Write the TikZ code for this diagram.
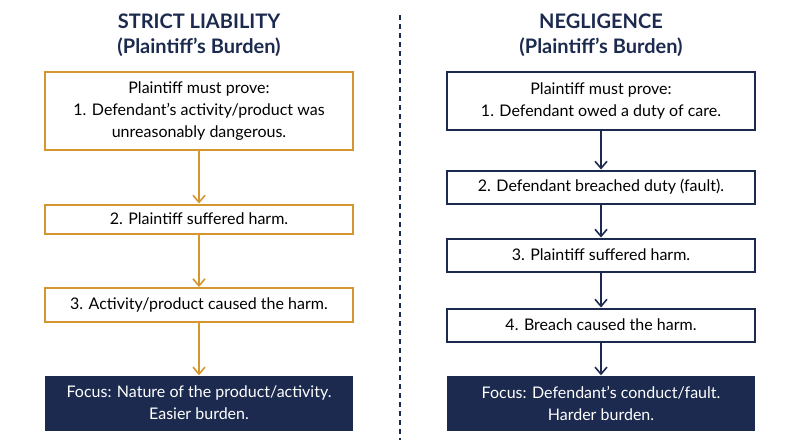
\documentclass[tikz,border=0pt]{standalone}
\usepackage{fontspec}
\setmainfont{Lato}
\usetikzlibrary{positioning, arrows.meta}
\definecolor{navy}{HTML}{1B2A4E}
\definecolor{gold}{HTML}{D4962E}
\begin{document}
\begin{tikzpicture}[x=1pt, y=-1pt,
    box/.style={draw=#1, line width=2pt, fill=white, text=black, minimum width=308pt, align=center, inner sep=2pt, font=\fontsize{16}{22}\selectfont},
    focus/.style={fill=navy, text=white, minimum width=308pt, minimum height=55pt, align=center, font=\fontsize{16}{22}\selectfont},
    title/.style={text=navy, align=center, font=\bfseries\fontsize{20}{25}\selectfont},
    arr/.style={-{Straight Barb[length=7pt, width=12pt]}, line width=1.6pt, draw=#1}]
    \useasboundingbox (0,0) rectangle (800,447);
    % strict liability
    \node[title] (sl) at (199,35) {STRICT LIABILITY\\(Plaintiff’s Burden)};
    \node[box=gold, minimum height=78pt] (sl1) at (199,111) {Plaintiff must prove:\\1. Defendant’s activity/product was\\unreasonably dangerous.};
    \node[box=gold, minimum height=29pt] (sl2) at (199,219) {2. Plaintiff suffered harm.};
    \node[box=gold, minimum height=34pt] (sl3) at (199,305) {3. Activity/product caused the harm.};
    \node[focus] (sl4) at (199,403) {Focus: Nature of the product/activity.\\Easier burden.};
    \draw[arr=gold] (sl1) -- (sl2);
    \draw[arr=gold] (sl2) -- (sl3);
    \draw[arr=gold] (sl3) -- (sl4);
    % divider
    \draw[navy, line width=1.5pt, dash pattern=on 5pt off 4pt] (400,15) -- (400,440);
    % negligence
    \node[title] (ng) at (601,35) {NEGLIGENCE\\(Plaintiff’s Burden)};
    \node[box=navy, minimum height=58pt] (ng1) at (601,101) {Plaintiff must prove:\\1. Defendant owed a duty of care.};
    \node[box=navy, minimum height=33pt] (ng2) at (601,187) {2. Defendant breached duty (fault).};
    \node[box=navy, minimum height=33pt] (ng3) at (601,255) {3. Plaintiff suffered harm.};
    \node[box=navy, minimum height=33pt] (ng4) at (601,325) {4. Breach caused the harm.};
    \node[focus] (ng5) at (601,403) {Focus: Defendant’s conduct/fault.\\Harder burden.};
    \draw[arr=navy] (ng1) -- (ng2);
    \draw[arr=navy] (ng2) -- (ng3);
    \draw[arr=navy] (ng3) -- (ng4);
    \draw[arr=navy] (ng4) -- (ng5);
\end{tikzpicture}
\end{document}
